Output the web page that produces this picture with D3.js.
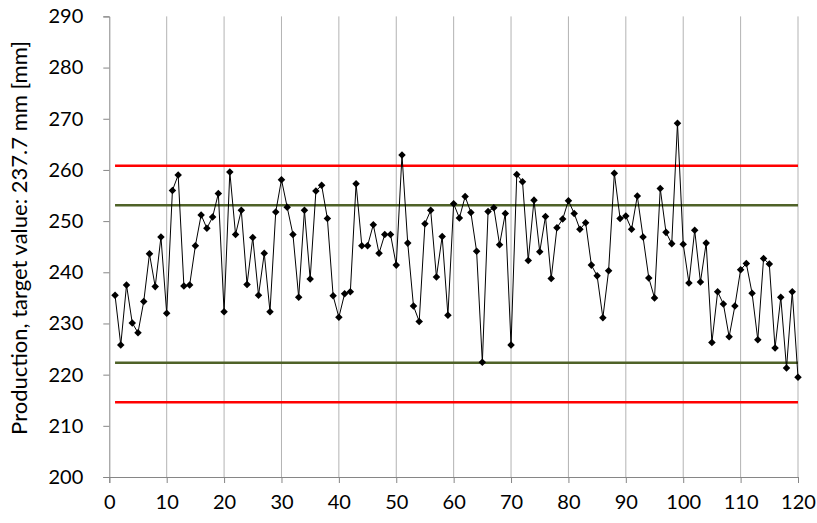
<!DOCTYPE html>
<html>
<head>
<meta charset="utf-8">
<script src="https://cdn.jsdelivr.net/npm/d3@7"></script>
<style>
  html, body { margin: 0; padding: 0; background: #fff; }
  svg { display: block; font-family: Lato, "Open Sans", sans-serif; }
</style>
</head>
<body>
<svg id="chart" width="817" height="523"></svg>
<script>
// Measured production lengths, sample 1..120
const measurements = [
  235.5, 225.8, 237.5, 230.1, 228.2, 234.3, 243.6, 237.2, 246.9, 232.0,
  256.0, 259.0, 237.3, 237.5, 245.2, 251.2, 248.6, 250.8, 255.4, 232.3,
  259.6, 247.4, 252.1, 237.6, 246.8, 235.5, 243.7, 232.3, 251.8, 258.1,
  252.7, 247.4, 235.1, 252.1, 238.7, 255.9, 257.0, 250.5, 235.4, 231.2,
  235.8, 236.2, 257.3, 245.2, 245.2, 249.3, 243.7, 247.4, 247.4, 241.4,
  262.9, 245.7, 233.4, 230.4, 249.5, 252.1, 239.1, 247.0, 231.6, 253.4,
  250.6, 254.8, 251.7, 244.1, 222.4, 251.9, 252.6, 245.4, 251.5, 225.8,
  259.1, 257.7, 242.3, 254.1, 244.0, 250.9, 238.8, 248.7, 250.4, 254.0,
  251.5, 248.4, 249.7, 241.4, 239.3, 231.1, 240.3, 259.35, 250.5, 251.0,
  248.4, 254.9, 246.9, 238.9, 235.0, 256.35, 247.8, 245.6, 269.1, 245.5,
  237.9, 248.2, 238.1, 245.7, 226.3, 236.2, 233.8, 227.4, 233.4, 240.5,
  241.7, 235.9, 226.8, 242.7, 241.6, 225.2, 235.1, 221.3, 236.2, 219.5
];
const samples = measurements.map((v, i) => i + 1);

// Control limits (target 237.7 mm)
const controlLimits = [260.8, 214.6];   // upper / lower action limits
const warningLimits = [253.1, 222.3];   // upper / lower warning limits

const xTicks = [0, 10, 20, 30, 40, 50, 60, 70, 80, 90, 100, 110, 120];
const yTicks = [200, 210, 220, 230, 240, 250, 260, 270, 280, 290];
const yTitle = "Production, target value: 237.7 mm [mm]";

const svg = d3.select("#chart");
const plotLeft = 109.3, plotRight = 798, plotTop = 16.4, plotBottom = 477;

const x = d3.scaleLinear().domain([0, 120]).range([plotLeft, plotRight]);
const y = d3.scaleLinear().domain([200, 290]).range([plotBottom, plotTop]);

const axisColor = "#868686";
const gridColor = "#b3b3b3";
const labelFont = "Lato, 'Open Sans', sans-serif";

// vertical grid lines
svg.append("g")
  .selectAll("line")
  .data(xTicks.filter(d => d > 0))
  .join("line")
  .attr("x1", d => x(d)).attr("x2", d => x(d))
  .attr("y1", plotTop).attr("y2", plotBottom)
  .attr("stroke", gridColor).attr("stroke-width", 1);

// x axis
const xAxis = svg.append("g")
  .attr("transform", `translate(0,${plotBottom})`)
  .call(d3.axisBottom(x).tickValues(xTicks).tickSize(6).tickPadding(12));
xAxis.select(".domain").attr("stroke", axisColor);
xAxis.selectAll(".tick line").attr("stroke", axisColor);
xAxis.selectAll(".tick text")
  .attr("font-size", 20).attr("fill", "#000")
  .attr("font-family", labelFont);

// y axis
const yAxis = svg.append("g")
  .attr("transform", `translate(${plotLeft},0)`)
  .call(d3.axisLeft(y).tickValues(yTicks).tickSize(6).tickPadding(20));
yAxis.select(".domain").attr("stroke", axisColor);
yAxis.selectAll(".tick line").attr("stroke", axisColor);
yAxis.selectAll(".tick text")
  .attr("font-size", 20).attr("fill", "#000")
  .attr("font-family", labelFont);

// y axis title
svg.append("text")
  .attr("transform", `translate(27,238) rotate(-90)`)
  .attr("text-anchor", "middle")
  .attr("font-size", 22)
  .attr("font-family", labelFont)
  .attr("fill", "#000")
  .text(yTitle);

// limit lines
const limitLine = (value, color) => {
  svg.append("line")
    .attr("x1", x(samples[0])).attr("x2", x(samples[samples.length - 1]))
    .attr("y1", y(value)).attr("y2", y(value))
    .attr("stroke", color).attr("stroke-width", 2.5);
};
controlLimits.forEach(v => limitLine(v, "#ff0000"));
warningLimits.forEach(v => limitLine(v, "#4f6228"));

// measurement series
const line = d3.line().x((d, i) => x(samples[i])).y(d => y(d));
svg.append("path")
  .datum(measurements)
  .attr("d", line)
  .attr("fill", "none")
  .attr("stroke", "#000")
  .attr("stroke-width", 1);

svg.append("g")
  .selectAll("path")
  .data(measurements)
  .join("path")
  .attr("d", d3.symbol(d3.symbolDiamond2, 36))
  .attr("transform", (d, i) => `translate(${x(samples[i])},${y(d)})`)
  .attr("fill", "#000");
</script>
</body>
</html>
